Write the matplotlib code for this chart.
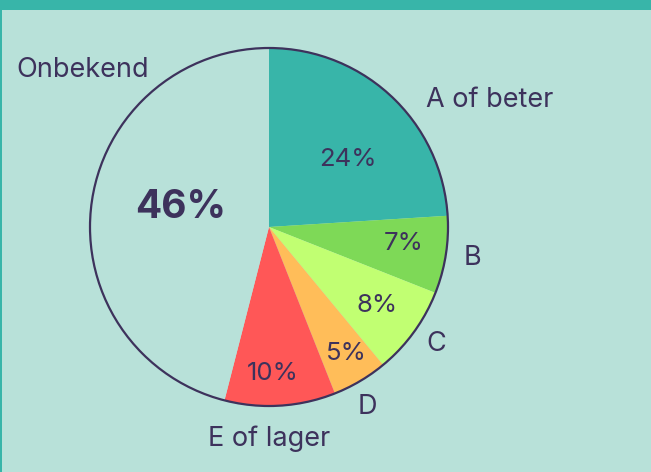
import matplotlib.pyplot as plt
from matplotlib.patches import Circle, Rectangle

categories = ['A of beter', 'B', 'C', 'D', 'E of lager', 'Onbekend']
shares = [24, 7, 8, 5, 10, 46]
pct_labels = ['24%', '7%', '8%', '5%', '10%', '46%']

bg = '#b8e1d9'
teal = '#38b5a9'
ink = '#3d325c'
colors = [teal, '#7ed957', '#c1ff72', '#ffbd59', '#ff5757', bg]

plt.rcParams['font.family'] = ['Inter', 'DejaVu Sans']

W, H = 651, 472
fig = plt.figure(figsize=(W / 100, H / 100), dpi=100)
fig.patch.set_facecolor(bg)
ax = fig.add_axes([0, 0, 1, 1])

# pie centred in pixel coordinates
cx, cy, r = 269, H - 227, 179
wedges, _ = ax.pie(shares, colors=colors, startangle=90, counterclock=False,
                   center=(cx, cy), radius=r, frame=True,
                   wedgeprops=dict(linewidth=0))
ax.set_xlim(0, W)
ax.set_ylim(0, H)
ax.set_aspect('equal')
ax.axis('off')
ax.add_patch(Circle((cx, cy), r, fill=False, ec=ink, lw=1.6))

# frame: thick band on top, thin line on the left
ax.add_patch(Rectangle((0, H - 10), W, 10, color=teal, lw=0))
ax.add_patch(Rectangle((0, 0), 2, H, color=teal, lw=0))

# label offsets from the centre (px)
name_pos = [(221, 127), (203, -31), (167, -117), (98, -180), (0, -212), (-186, 157)]
pct_pos = [(79, 67), (135, -16), (108, -79), (77, -127), (4, -146), (-88, 20)]

for name, (dx, dy) in zip(categories, name_pos):
    ax.text(cx + dx, cy + dy, name, color=ink, fontsize=19.5,
            ha='center', va='center')
for i, (lab, (dx, dy)) in enumerate(zip(pct_labels, pct_pos)):
    big = i == len(pct_labels) - 1
    ax.text(cx + dx, cy + dy, lab, color=ink,
            fontsize=28 if big else 18.5,
            fontweight='bold' if big else 'normal',
            ha='center', va='center')

fig.savefig('out.png', dpi=100, facecolor=bg)
